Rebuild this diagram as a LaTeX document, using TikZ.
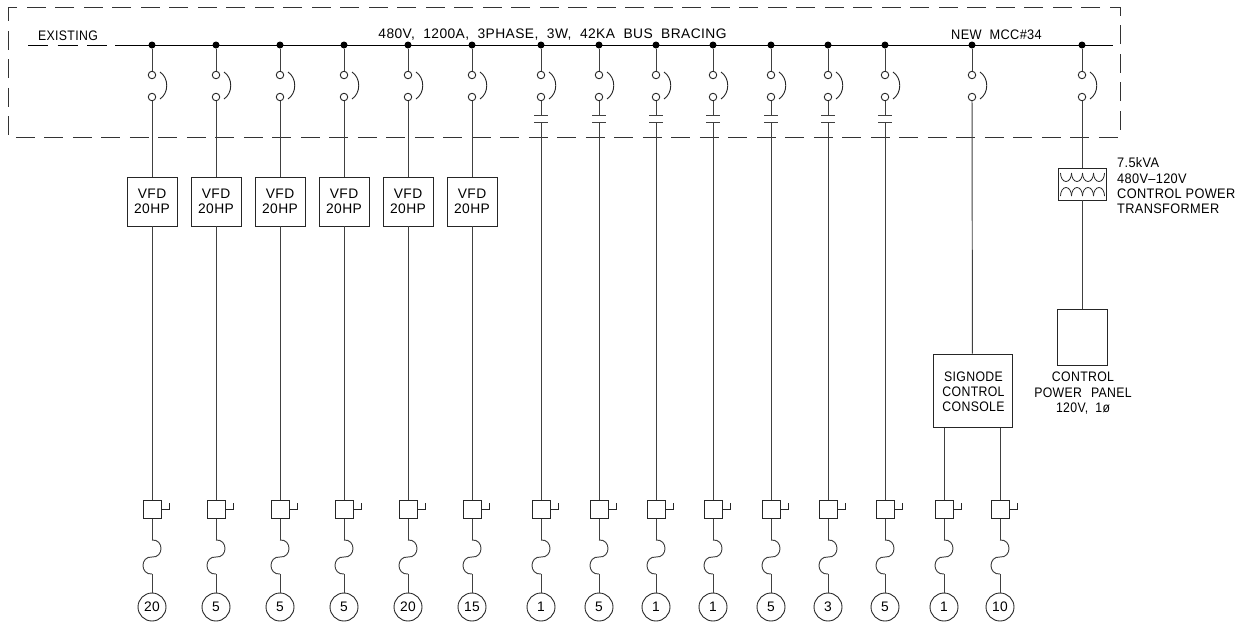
\documentclass[tikz,border=0pt]{standalone}
\usepackage{fontspec}
\setmainfont{Liberation Sans}
\newfontfamily\cadA[LetterSpace=3,WordSpace=2.0]{Liberation Sans}
\newfontfamily\cadB[LetterSpace=2.5,WordSpace=2.0,FakeStretch=0.89]{Liberation Sans}
\newfontfamily\cadC[LetterSpace=2.5,WordSpace=2.0,FakeStretch=0.925]{Liberation Sans}
\newcommand{\cadfont}{\cadA\fontsize{13.8}{15}\selectfont}
\newcommand{\cadfontb}{\cadB\fontsize{13.8}{15}\selectfont}
\newcommand{\cadfontc}{\cadC\fontsize{13.8}{15}\selectfont}
\tikzset{
  x=1pt,y=-1pt,
  wire/.style={draw=black!75,line width=0.95pt},
  arcline/.style={draw=black!85,line width=0.9pt},
  busline/.style={draw=black,line width=0.95pt},
  cadbox/.style={draw=black!85,line width=0.9pt,inner sep=0pt},
  dashbox/.style={draw=black!80,line width=0.9pt,dash pattern=on 19pt off 9.5pt,dash phase=4.6pt},
  busdot/.style={circle,fill=black,draw=none,minimum size=7pt,inner sep=0pt},
  contact/.style={circle,draw=black!85,fill=white,line width=0.9pt,minimum size=7.5pt,inner sep=0pt},
  vfdbox/.style={cadbox,minimum width=50pt,minimum height=49pt,align=center,font=\cadfont},
  ovl/.style={cadbox,minimum size=18pt},
  tag/.style={circle,draw=black!85,line width=0.9pt,minimum size=28pt,inner sep=0pt,font=\cadfont},
  lbl/.style={inner sep=0pt,align=center,font=\cadfont},
  lblb/.style={inner sep=0pt,align=center,font=\cadfontb},
  lblc/.style={inner sep=0pt,align=left,font=\cadfontc},
  plate/.style={draw=black!75,line width=0.9pt},
  coil/.style={line width=0.8pt,draw=black!85},
}
\begin{document}
\begin{tikzpicture}
\useasboundingbox (0,0) rectangle (1244,625);
\draw[dashbox] (8,7) rectangle (1120,137);
\coordinate (busL) at (115,45);
\coordinate (busR) at (1113,45);
\draw[busline] (busL) -- (busR);
\coordinate (exL) at (28,45);
\coordinate (exR) at (107,45);
\draw[busline,dash pattern=on 20pt off 9.5pt] (exL) -- (exR);
\node[lblb] (existing) at (68,36) {EXISTING};
\node[lbl] (bustext) at (552.5,35) {480V, 1200A, 3PHASE, 3W, 42KA BUS BRACING};
\node[lblc] (mcc) at (996.5,35) {NEW\hspace{8pt}MCC\#34};
% feeder switches
\foreach \i/\x in {1/152,2/216,3/280,4/344,5/408,6/472,7/541,8/599,9/656,10/713,11/771,12/828,13/885,14/972,15/1082}{
  \node[busdot] (d\i) at (\x,45) {};
  \node[contact] (a\i) at (\x,75) {};
  \node[contact] (b\i) at (\x,97) {};
  \draw[wire] (d\i) -- (a\i);
  \draw[arcline] ({\x+8},72) .. controls ({\x+17},78) and ({\x+17},93) .. ({\x+8},99);
}
% overload + fuse + tag drops
\foreach \i/\x/\t in {1/152/20,2/216/5,3/280/5,4/344/5,5/408/20,6/472/15,7/541/1,8/599/5,9/656/1,10/713/1,11/771/5,12/828/3,13/885/5,14/944/1,15/1000/10}{
  \node[ovl] (o\i) at (\x,509.5) {};
  \node[tag] (t\i) at (\x,607) {\t};
  \coordinate (fa\i) at (\x,540);
  \coordinate (fb\i) at (\x,574);
  \draw[wire] (o\i) -- (fa\i);
  \draw[wire] (fb\i) -- (t\i);
  \draw[wire] (fa\i) .. controls ({\x+12},539) and ({\x+12},558) .. (\x,557)
     .. controls ({\x-12},556) and ({\x-12},575) .. (fb\i);
  \draw[arcline] (o\i.east) -- ++(8,0) -- ++(0,-7);
}
% VFD feeders
\foreach \i in {1,...,6}{
  \pgfmathtruncatemacro{\xx}{152+64*(\i-1)}
  \node[vfdbox] (v\i) at (\xx,201.5) {VFD\\[0.5pt]20HP};
  \draw[wire] (b\i) -- (v\i);
  \draw[wire] (v\i) -- (o\i);
}
% contactor feeders
\foreach \i/\x in {7/541,8/599,9/656,10/713,11/771,12/828,13/885}{
  \coordinate (pa\i) at (\x,115);
  \coordinate (pb\i) at (\x,122);
  \draw[wire] (b\i) -- (pa\i);
  \draw[plate] ({\x-7},115) -- ({\x+7},115);
  \draw[plate] ({\x-7},122) -- ({\x+7},122);
  \draw[wire] (pb\i) -- (o\i);
}
% signode
\node[cadbox,minimum width=79pt,minimum height=73.5pt] (sig) at (972.5,390.7) {};
\node[lblb] (sigtxt) at (973.5,392) {SIGNODE\\CONTROL\\CONSOLE};
\draw[wire] (b14) -- (sig);
\draw[wire] (o14 |- sig.south) -- (o14);
\draw[wire] (o15 |- sig.south) -- (o15);
% transformer
\node[cadbox,minimum width=48pt,minimum height=32pt] (tx) at (1082,184) {};
\draw[wire] (b15) -- (tx);
\foreach \k in {0,1,2,3}{
  \draw[coil] ({1060.5+11*\k},173) arc[start angle=180,end angle=0,x radius=5.5,y radius=8.5];
  \draw[coil] ({1060.5+11*\k},196) arc[start angle=180,end angle=360,x radius=5.5,y radius=8.5];
}
\node[lblc,anchor=north west] (txt) at (1117,157.5) {7.5kVA\\[0.3pt]480V–120V\\[0.3pt]CONTROL\hspace{4pt}POWER\\[0.3pt]TRANSFORMER};
% panel
\node[cadbox,minimum width=50pt,minimum height=56pt] (panel) at (1082,337) {};
\draw[wire] (tx) -- (panel);
\node[lblb,anchor=north] (paneltxt) at (1083,372) {CONTROL\\[0.3pt]POWER\hspace{9pt}PANEL\\[0.3pt]120V,\hspace{7pt}1ø};
\end{tikzpicture}
\end{document}
